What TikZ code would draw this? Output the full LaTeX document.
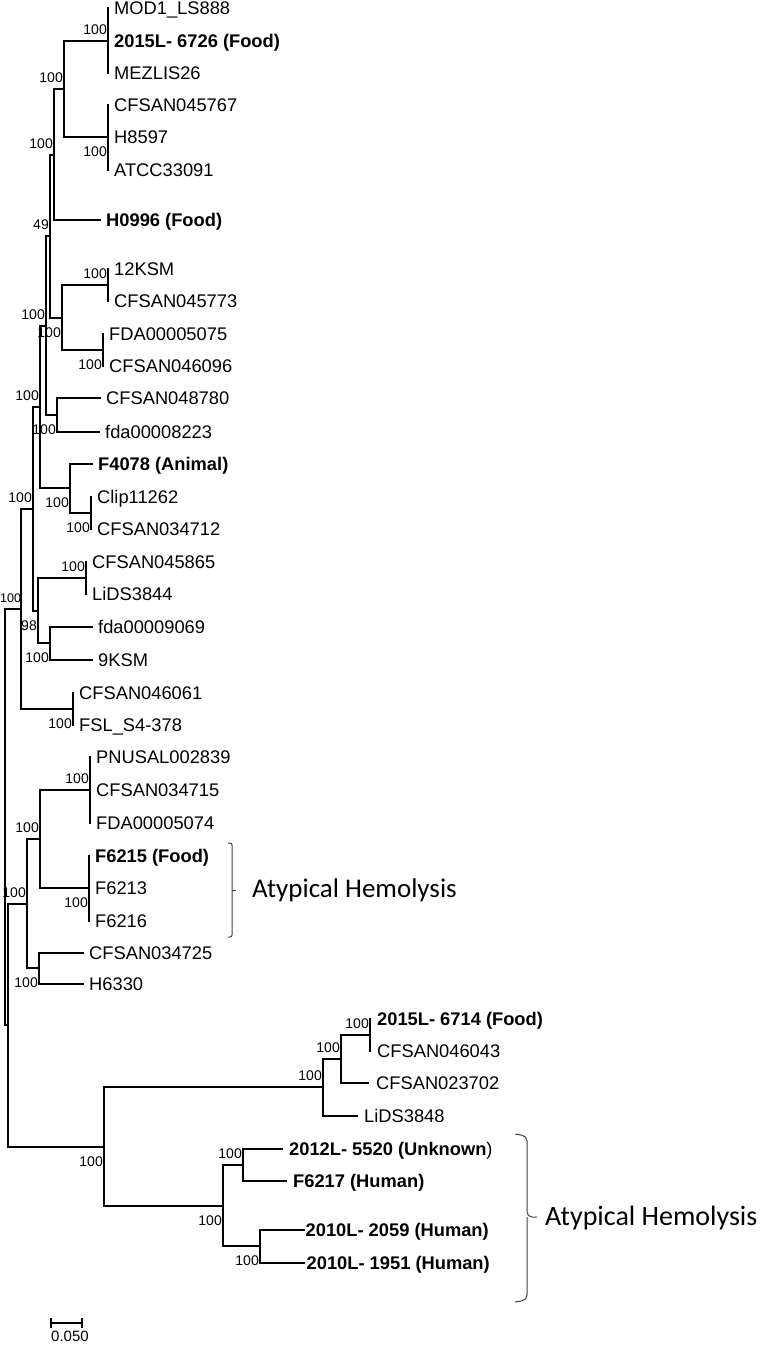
\documentclass[tikz,border=0pt]{standalone}
\usepackage{fontspec}
\setmainfont{Liberation Sans}
\newfontfamily\carl{Carlito}
\begin{document}
\begin{tikzpicture}[x=1pt,y=-1pt,
  br/.style={line width=2pt,line cap=rect,line join=miter},
  leaf/.style={anchor=west,inner xsep=6pt,inner ysep=0pt,text height=13.1pt,text depth=0pt,font=\fontsize{18.3}{20}\selectfont},
  bleaf/.style={leaf,font=\fontsize{18.3}{20}\selectfont\bfseries},
  supA/.style={anchor=south east,inner sep=0pt,text height=10pt,text depth=0pt,font=\fontsize{14}{16}\selectfont},
  supB/.style={supA,anchor=north east},
  bk/.style={line width=1pt,draw=black!75,rounded corners=2pt},
  ahtext/.style={anchor=west,inner sep=0pt,text height=17.4pt,text depth=0pt,font=\carl\fontsize{27}{30}\selectfont}]
\useasboundingbox (0,0) rectangle (766,1347);
% internal nodes
\coordinate (root) at (5,817);
\coordinate (n32) at (8,1025);
\coordinate (n19) at (21,609);
\coordinate (n17) at (33,509);
\coordinate (n13) at (40,407);
\coordinate (n10) at (46,326);
\coordinate (n8) at (50,236);
\coordinate (n4) at (54,155);
\coordinate (n3) at (64,89);
\coordinate (n1) at (108,41);
\coordinate (n2) at (108,137);
\coordinate (n5) at (62,318);
\coordinate (n6) at (108,285);
\coordinate (n7) at (103,350);
\coordinate (n9) at (57,415);
\coordinate (n12) at (70,488);
\coordinate (n11) at (91,513);
\coordinate (n16) at (38,611);
\coordinate (n14) at (86,578);
\coordinate (n15) at (50,643);
\coordinate (n18) at (73,709);
\coordinate (n24) at (27,904);
\coordinate (n22) at (40,839);
\coordinate (n20) at (90,790);
\coordinate (n21) at (89,888);
\coordinate (n23) at (39,968);
\coordinate (n31) at (104,1147);
\coordinate (n27) at (323,1087);
\coordinate (n26) at (341,1059);
\coordinate (n25) at (370,1035);
\coordinate (n30) at (223,1206);
\coordinate (n28) at (243,1165);
\coordinate (n29) at (260,1246);
% leaves
\node[leaf] (L1) at (108,8) {MOD1\_LS888};
\node[bleaf] (L2) at (108,41) {2015L- 6726 (Food)};
\node[leaf] (L3) at (108,73) {MEZLIS26};
\node[leaf] (L4) at (108,105) {CFSAN045767};
\node[leaf] (L5) at (108,137) {H8597};
\node[leaf] (L6) at (108,170) {ATCC33091};
\node[bleaf] (L7) at (100,220) {H0996 (Food)};
\node[leaf] (L8) at (108,269) {12KSM};
\node[leaf] (L9) at (108,301) {CFSAN045773};
\node[leaf] (L10) at (103,334) {FDA00005075};
\node[leaf] (L11) at (103,366) {CFSAN046096};
\node[leaf] (L12) at (100,398) {CFSAN048780};
\node[leaf] (L13) at (99,432) {fda00008223};
\node[bleaf] (L14) at (92,464) {F4078 (Animal)};
\node[leaf] (L15) at (91,497) {Clip11262};
\node[leaf] (L16) at (91,529) {CFSAN034712};
\node[leaf] (L17) at (86,562) {CFSAN045865};
\node[leaf] (L18) at (86,594) {LiDS3844};
\node[leaf] (L19) at (92,627) {fda00009069};
\node[leaf] (L20) at (92,660) {9KSM};
\node[leaf] (L21) at (73,693) {CFSAN046061};
\node[leaf] (L22) at (73,725) {FSL\_S4-378};
\node[leaf] (L23) at (90,757) {PNUSAL002839};
\node[leaf] (L24) at (90,790) {CFSAN034715};
\node[leaf] (L25) at (90,823) {FDA00005074};
\node[bleaf] (L26) at (89,856) {F6215 (Food)};
\node[leaf] (L27) at (89,888) {F6213};
\node[leaf] (L28) at (89,921) {F6216};
\node[leaf] (L29) at (83,953) {CFSAN034725};
\node[leaf] (L30) at (83,984) {H6330};
\node[bleaf,inner xsep=7pt] (L31) at (370,1019) {2015L- 6714 (Food)};
\node[leaf,inner xsep=7pt] (L32) at (370,1051) {CFSAN046043};
\node[leaf,inner xsep=8pt] (L33) at (368,1083) {CFSAN023702};
\node[leaf,inner xsep=7pt] (L34) at (357,1116) {LiDS3848};
\node[bleaf,inner xsep=7pt] (L35) at (282,1149) {2012L- 5520 (Unknown\textmd{)}};
\node[bleaf,inner xsep=7pt] (L36) at (286,1181) {F6217 (Human)};
\node[bleaf,inner xsep=1.5pt] (L37) at (304,1230) {2010L- 2059 (Human)};
\node[bleaf,inner xsep=2.5pt] (L38) at (304,1263) {2010L- 1951 (Human)};
% branches
\foreach \p/\c in {root/n19,root/n32,n32/n24,n32/n31,n19/n17,n19/n18,n17/n13,n17/n16,
  n13/n10,n13/n12,n10/n8,n10/n9,n8/n4,n8/n5,n4/n3,n3/n1,n3/n2,n5/n6,n5/n7,
  n12/n11,n16/n14,n16/n15,n24/n22,n24/n23,n22/n20,n22/n21,
  n31/n27,n31/n30,n27/n26,n26/n25,n30/n28,n30/n29}
  \draw[br] (\p) |- (\c);
\foreach \p/\c in {n1/L1,n1/L2,n1/L3,n2/L4,n2/L5,n2/L6,n4/L7,n6/L8,n6/L9,n7/L10,n7/L11,
  n9/L12,n9/L13,n12/L14,n11/L15,n11/L16,n14/L17,n14/L18,n15/L19,n15/L20,n18/L21,n18/L22,
  n20/L23,n20/L24,n20/L25,n21/L26,n21/L27,n21/L28,n23/L29,n23/L30,
  n25/L31,n25/L32,n26/L33,n27/L34,n28/L35,n28/L36,n29/L37,n29/L38}
  \draw[br] (\p) |- (\c.west);
% support values
\foreach \n/\v in {n1/100,n3/100,n4/100,n6/100,n8/49,n10/100,n13/100,n14/100,n17/100,
  n20/100,n22/100,n24/100,n25/100,n26/100,n27/100,n28/100}
  \node[supA] (s\n) at ([xshift=-1pt,yshift=6.5pt]\n) {\v};
\node[supA,anchor=south west,font=\fontsize{12.5}{14}\selectfont] (sn19) at ([yshift=6.5pt]0,609) {100};
\foreach \n/\v in {n2/100,n5/100,n7/100,n9/100,n11/100,n12/100,n15/100,n16/98,n18/100,
  n21/100,n23/100,n29/100,n30/100,n31/100}
  \node[supB] (s\n) at ([xshift=-1pt,yshift=-9pt]\n) {\v};
% brackets
\draw[bk] (228,843) -- (232,843) -- (232,937) -- (228,937);
\draw[bk,rounded corners=0pt] (232,890) -- (236,890);
\node[ahtext] (ah1) at (252,889) {Atypical Hemolysis};
\draw[bk,rounded corners=5pt] (515,1134) -- (527,1136) -- (527,1217) -- (537,1217);
\draw[bk,rounded corners=5pt] (527,1217) -- (527,1300) -- (515,1302);
\node[ahtext,font=\carl\fontsize{28}{30}\selectfont,text height=18pt] (ah2) at (545,1216) {Atypical Hemolysis};
% scale bar
\coordinate (sb1) at (51,1323);
\coordinate (sb2) at (82,1323);
\draw[line width=1.3pt] ([yshift=5pt]sb1) -- ([yshift=-5pt]sb1) (sb1) -- (sb2) ([yshift=5pt]sb2) -- ([yshift=-5pt]sb2);
\node[inner sep=0pt,font=\fontsize{15}{17}\selectfont,anchor=north] (sbt) at (70,1331) {0.050};
\end{tikzpicture}
\end{document}
